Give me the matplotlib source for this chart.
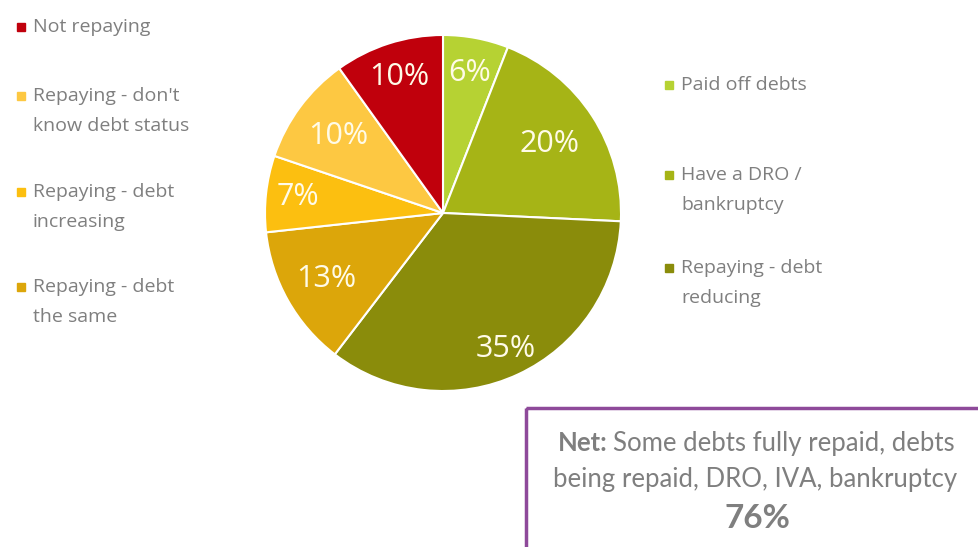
import matplotlib.pyplot as plt
from matplotlib.patches import Rectangle
import numpy as np

# debt status shares, clockwise from 12 o'clock
labels = ['Paid off debts', 'Have a DRO /\nbankruptcy', 'Repaying - debt\nreducing',
          'Repaying - debt\nthe same', 'Repaying - debt\nincreasing',
          "Repaying - don't\nknow debt status", 'Not repaying']
values = [6, 20, 35, 13, 7, 10, 10]
colors = ['#b6d233', '#a6b416', '#8a8c0b', '#dca60a', '#fcbf10', '#fdc842', '#c0000c']
label_dist = [0.80, 0.71, 0.84, 0.75, 0.82, 0.73, 0.80]

net_value = 76

W, H = 979, 547
fig = plt.figure(figsize=(W / 100, H / 100), dpi=100)

# pie axes, placed in pixel terms
cx, cy, r = 443, 213, 178
ax = fig.add_axes([(cx - r) / W, (H - cy - r) / H, 2 * r / W, 2 * r / H])
wedges, _ = ax.pie(values, colors=colors, startangle=90, counterclock=False,
                   radius=1, wedgeprops=dict(edgecolor='white', linewidth=1.5))
ax.set_xlim(-1, 1)
ax.set_ylim(-1, 1)
ax.set_aspect('equal')
ax.axis('off')

for w, v, d in zip(wedges, values, label_dist):
    ang = np.deg2rad((w.theta1 + w.theta2) / 2)
    ax.text(d * np.cos(ang), d * np.sin(ang), f'{v}%', ha='center', va='center',
            color='#fffbe8', fontsize=22, family='Open Sans')

# overlay in pixel coordinates for legends and the note box
ov = fig.add_axes([0, 0, 1, 1], zorder=-1)
ov.set_xlim(0, W)
ov.set_ylim(H, 0)
ov.axis('off')

grey = '#7f7f7f'
legend_font = dict(fontsize=14, family='Open Sans', color=grey, va='center')


def legend_item(i, x, y):
    ov.add_patch(Rectangle((x, y - 4), 8, 8, color=colors[i]))
    for k, line in enumerate(labels[i].split('\n')):
        ov.text(x + 16, y + 30 * k, line, **legend_font)


# left legend, top to bottom
for i, y in zip([6, 5, 4, 3], [27, 96, 192, 287]):
    legend_item(i, 17, y)

# right legend
for i, y in zip([0, 1, 2], [85, 175, 268]):
    legend_item(i, 665, y)

# net summary box
ov.add_patch(Rectangle((526, 408), 460, 150, fill=False, edgecolor='#8e4a9a',
                       linewidth=2.5, clip_on=False))
box_font = dict(fontsize=18.5, family='Lato', color=grey, va='center')
ov.text(608, 443, 'Net:', ha='right', fontweight='bold', **box_font)
ov.text(613, 443, 'Some debts fully repaid, debts', ha='left', **box_font)
ov.text(755, 480, 'being repaid, DRO, IVA, bankruptcy', ha='center', **box_font)
ov.text(757, 518, f'{net_value}%', ha='center', va='center', fontsize=24,
        fontweight='bold', family='Lato', color=grey)

fig.savefig('out.png', dpi=100, facecolor='white')
